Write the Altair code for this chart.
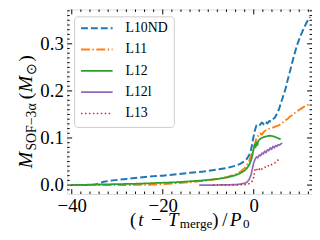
import altair as alt
import pandas as pd

names = ["L10ND", "L11", "L12", "L12l", "L13"]
colors = ["#1f77b4", "#ff7f0e", "#2ca02c", "#9467bd", "#d62728"]
dashes = [[7, 3], [9, 2.5, 1.5, 2.5], [1, 0], [1, 0], [1.5, 2.5]]
widths = [2, 1.6, 2, 1.1, 1.6]

t_L10ND = [-40, -36, -34.5, -33, -31, -28, -25, -22, -20, -17, -14, -11, -8, -6, -4, -3, -2, -1.5, -1, -0.6,
           -0.3, 0, 0.3, 0.6, 1.0, 1.4, 1.8, 2.2, 2.6, 3.0, 3.4, 3.8, 4.2, 4.6, 5.0, 5.5, 6.0, 6.5, 7.0, 7.5,
           8.0, 8.5, 9.0, 9.5, 10.0, 10.5, 11.0, 11.5, 12.0, 12.4]
m_L10ND = [0, 0, 0.002, 0.007, 0.010, 0.013, 0.016, 0.019, 0.020, 0.023, 0.026, 0.029, 0.033, 0.036, 0.041,
           0.045, 0.051, 0.056, 0.064, 0.075, 0.090, 0.105, 0.118, 0.127, 0.130, 0.128, 0.133, 0.129, 0.134,
           0.131, 0.136, 0.135, 0.140, 0.143, 0.150, 0.160, 0.175, 0.190, 0.205, 0.225, 0.243, 0.262, 0.280,
           0.297, 0.310, 0.322, 0.333, 0.343, 0.352, 0.357]

t_L11 = [-40, -30, -25, -22, -20, -17, -14, -11, -8, -6, -4, -3, -2, -1.5, -1, -0.5, 0, 0.3, 0.6, 1.0, 1.4,
         1.8, 2.2, 2.6, 3.0, 3.5, 4.0, 4.5, 5.0, 5.5, 6.0, 6.5, 7.0, 7.5, 8.0, 8.5, 9.0, 9.5, 10.0, 10.5, 11.0,
         11.5, 12.0, 12.5]
m_L11 = [0, 0, 0.0005, 0.001, 0.002, 0.004, 0.006, 0.009, 0.013, 0.017, 0.023, 0.028, 0.036, 0.042, 0.052,
         0.064, 0.080, 0.090, 0.100, 0.105, 0.110, 0.107, 0.113, 0.116, 0.118, 0.120, 0.121, 0.123, 0.125,
         0.127, 0.130, 0.134, 0.138, 0.141, 0.146, 0.149, 0.153, 0.156, 0.160, 0.163, 0.166, 0.169, 0.171,
         0.172]

t_L12 = [-40, -35, -30, -25, -20, -17, -14, -11, -8, -6, -4, -3, -2, -1.5, -1, -0.5, -0.2, 0, 0.2, 0.4,
         0.6, 0.8, 1.0, 1.3, 1.6, 2.0, 2.5, 3.0, 3.5, 4.0, 4.5, 5.0, 5.5, 5.9]
m_L12 = [0, 0.001, 0.002, 0.003, 0.005, 0.006, 0.008, 0.010, 0.013, 0.016, 0.021, 0.025, 0.031, 0.036,
         0.043, 0.055, 0.068, 0.078, 0.086, 0.080, 0.091, 0.085, 0.094, 0.097, 0.099, 0.101, 0.103, 0.104,
         0.105, 0.104, 0.103, 0.101, 0.099, 0.097]

t_L12l = [-12, -9, -6, -4, -3, -2, -1.5, -1, -0.6, -0.3, 0, 0.3, 0.6, 0.9, 1.2, 1.5, 1.8, 2.1, 2.4, 2.7,
          3.0, 3.3, 3.6, 3.9, 4.2, 4.5, 4.8, 5.1, 5.4, 5.7, 6.0, 6.3]
m_L12l = [0, 0, 0.0005, 0.001, 0.002, 0.004, 0.006, 0.012, 0.022, 0.035, 0.048, 0.055, 0.060, 0.058,
          0.064, 0.062, 0.068, 0.066, 0.072, 0.069, 0.075, 0.073, 0.079, 0.076, 0.082, 0.079, 0.084, 0.082,
          0.086, 0.085, 0.088, 0.089]

t_L13 = [-9, -6, -4, -2, -1, -0.5, -0.2, 0, 0.2, 0.4, 0.7, 1.0, 1.3, 1.6, 2.0, 2.4, 2.8, 3.2, 3.6, 4.0,
         4.4, 4.8, 5.2, 5.5]
m_L13 = [0, 0, 0, 0.001, 0.003, 0.006, 0.011, 0.018, 0.030, 0.036, 0.033, 0.030, 0.035, 0.032, 0.036,
         0.038, 0.037, 0.041, 0.040, 0.044, 0.046, 0.048, 0.052, 0.055]

x_major = [-40, -20, 0]
x_minor = [-38, -36, -34, -32, -30, -28, -26, -24, -22, -18, -16, -14, -12, -10, -8, -6, -4, -2,
           2, 4, 6, 8, 10, 12]
y_major = [0.0, 0.1, 0.2, 0.3]
y_minor = [-0.01, 0.01, 0.02, 0.03, 0.04, 0.05, 0.06, 0.07, 0.08, 0.09, 0.11, 0.12, 0.13, 0.14, 0.15,
           0.16, 0.17, 0.18, 0.19, 0.21, 0.22, 0.23, 0.24, 0.25, 0.26, 0.27, 0.28, 0.29, 0.31, 0.32, 0.33,
           0.34, 0.35, 0.36, 0.37]

series = {"L10ND": (t_L10ND, m_L10ND), "L11": (t_L11, m_L11), "L12": (t_L12, m_L12),
          "L12l": (t_L12l, m_L12l), "L13": (t_L13, m_L13)}
rows = []
for n in names:
    for tv, mv in zip(*series[n]):
        rows.append({"model": n, "t": tv, "m": mv})
df = pd.DataFrame(rows)

W, H = 248, 187
FONT = "Liberation Serif"
xs = alt.Scale(domain=[-41, 12.8], nice=False, zero=False)
ys = alt.Scale(domain=[-0.019, 0.373], nice=False, zero=False)
xaxis = alt.Axis(values=x_major, ticks=False, domain=False, grid=False, title=None, labelFont=FONT,
                 labelFontSize=19, labelPadding=3, labelColor="black")
yaxis = alt.Axis(values=y_major, format=".1f", ticks=False, domain=False, grid=False, title=None,
                 labelFont=FONT, labelFontSize=19, labelPadding=4, labelColor="black")

lines = alt.Chart(df).mark_line(clip=True, strokeCap="butt", strokeJoin="round").encode(
    x=alt.X("t:Q", scale=xs, axis=xaxis),
    y=alt.Y("m:Q", scale=ys, axis=yaxis),
    color=alt.Color("model:N", scale=alt.Scale(domain=names, range=colors),
                    legend=alt.Legend(orient="none", legendX=7, legendY=7, title=None, padding=6,
                                      strokeColor="#cccccc", fillColor="rgba(255,255,255,0.8)",
                                      cornerRadius=3, symbolType="stroke", symbolSize=1024,
                                      symbolStrokeWidth=2, labelFont=FONT, labelFontSize=14,
                                      labelOffset=12, rowPadding=7.6, clipHeight=12,
                                      labelColor="black")),
    strokeDash=alt.StrokeDash("model:N", scale=alt.Scale(domain=names, range=dashes)),
    strokeWidth=alt.StrokeWidth("model:N", scale=alt.Scale(domain=names, range=widths), legend=None),
)


def ticks(vals, axis, size, side):
    c = alt.Chart(pd.DataFrame({"v": vals})).mark_rule(color="black", strokeWidth=1)
    if axis == "x":
        if side == "bottom":
            return c.encode(x=alt.X("v:Q", scale=xs, axis=xaxis), y=alt.value(H), y2=alt.value(H - size))
        return c.encode(x=alt.X("v:Q", scale=xs, axis=xaxis), y=alt.value(0), y2=alt.value(size))
    if side == "left":
        return c.encode(y=alt.Y("v:Q", scale=ys, axis=yaxis), x=alt.value(0), x2=alt.value(size))
    return c.encode(y=alt.Y("v:Q", scale=ys, axis=yaxis), x=alt.value(W), x2=alt.value(W - size))


tick_layers = []
for side in ["bottom", "top"]:
    tick_layers.append(ticks(x_major, "x", 5, side))
    tick_layers.append(ticks(x_minor, "x", 2.5, side))
for side in ["left", "right"]:
    tick_layers.append(ticks(y_major, "y", 5, side))
    tick_layers.append(ticks(y_minor, "y", 2.5, side))


def txt(s, x, y, size, italic=False, angle=0):
    return alt.Chart(pd.DataFrame({"d": [0]})).mark_text(
        text=s, font=FONT, fontSize=size, fontStyle="italic" if italic else "normal",
        align="left", baseline="alphabetic", angle=angle, color="black"
    ).encode(x=alt.value(x), y=alt.value(y))


BIG, SMALL = 19, 13.3
xb, xsb = 219, 221.8
title_layers = [
    txt("(", 63.7, xb, BIG), txt("t", 72, xb, BIG, True), txt("\u2212", 85, xb, BIG),
    txt("T", 102, xb, BIG, True), txt("merge", 114, xsb, SMALL), txt(")", 147, xb, BIG),
    txt("/", 157, xb, BIG), txt("P", 165, xb, BIG, True), txt("0", 178, xsb, SMALL),
]
YB, YS = 20, 14
yb, ysb = -36, -32
title_layers += [
    txt("M", yb, 161, YB, True, 270), txt("SOF\u22123\u03b1", ysb, 143, YS, False, 270),
    txt("(", yb, 91, YB, False, 270), txt("M", yb, 84, YB, True, 270),
    txt("\u2299", ysb, 66, YS, False, 270), txt(")", yb, 53, YB, False, 270),
]

chart = alt.layer(lines, *tick_layers, *title_layers).properties(
    width=W, height=H, autosize=alt.AutoSizeParams(type="none"),
    padding={"left": 60, "top": 0, "right": 0, "bottom": 37},
).configure_view(stroke="black", strokeWidth=1).configure(background="white").configure_legend(
    labelFont=FONT)

chart.save("out.html", embed_options={"renderer": "svg", "actions": False})
